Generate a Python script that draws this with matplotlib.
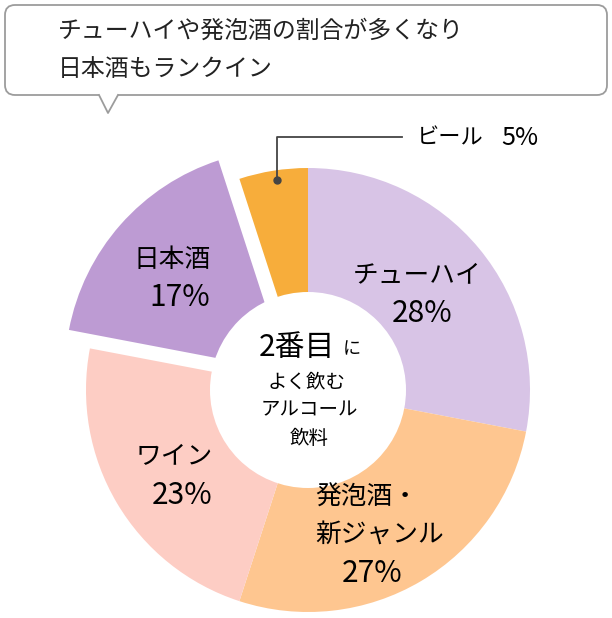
import matplotlib
matplotlib.use("Agg")
import matplotlib.pyplot as plt
from matplotlib.patches import Circle, FancyBboxPatch, Polygon

plt.rcParams['font.family'] = ['Noto Sans CJK JP', 'DejaVu Sans']

# データ（時計回り、12時の位置から）
categories = ['チューハイ', '発泡酒・新ジャンル', 'ワイン', '日本酒', 'ビール']
shares = [28, 27, 23, 17, 5]
colors = ['#d8c4e6', '#fec690', '#fdcdc4', '#bd9bd3', '#f7ad3b']
explode = [0, 0, 0, 0.126, 0]

title_lines = ['チューハイや発泡酒の割合が多くなり', '日本酒もランクイン']
center_lines = ['よく飲む', 'アルコール', '飲料']

W, H = 612, 618
CX, CY, R = 308, 390, 222  # 円グラフの中心と半径（ピクセル）

fig = plt.figure(figsize=(W / 100, H / 100), dpi=100)
fig.patch.set_facecolor('white')

# 円グラフ用の軸（半径1 = R ピクセル）
ax = fig.add_axes([0, 0, 1, 1])
ax.pie(shares, colors=colors, explode=explode, startangle=90,
       counterclock=False, radius=1, wedgeprops=dict(linewidth=0))
ax.set_xlim((0 - CX) / R, (W - CX) / R)
ax.set_ylim((CY - H) / R, CY / R)
ax.set_aspect('equal')
ax.axis('off')

# 文字などはピクセル座標の軸で
ov = fig.add_axes([0, 0, 1, 1])
ov.set_xlim(0, W)
ov.set_ylim(H, 0)
ov.axis('off')

# 中央の白い円
ov.add_patch(Circle((CX, CY), 98, facecolor='white', edgecolor='none'))

# 吹き出し
bub = FancyBboxPatch((5, 5), 602, 90, boxstyle='round,pad=0,rounding_size=10',
                     facecolor='white', edgecolor='#9c9c9c', linewidth=1.3)
ov.add_patch(bub)
ov.add_patch(Polygon([(99, 94), (108, 113), (118, 94)], closed=True,
                     facecolor='white', edgecolor='none', zorder=3))
ov.plot([99, 108, 118], [95, 113, 95], color='#9c9c9c', lw=1.3, zorder=4)
ov.text(58, 31, title_lines[0], fontsize=17.2, ha='left', va='center', color='#222222')
ov.text(58, 69, title_lines[1], fontsize=17.2, ha='left', va='center', color='#222222')

# ラベル
fs = 18.5
pfs = 21.5
ov.text(417, 275, 'チューハイ', fontsize=fs, ha='center', va='center')
ov.text(422, 313, f'{shares[0]}%', fontsize=pfs, ha='center', va='center')

ov.text(315, 498, '発泡酒・', fontsize=fs, ha='left', va='center')
ov.text(315, 535, '新ジャンル', fontsize=fs, ha='left', va='center')
ov.text(372, 573, f'{shares[1]}%', fontsize=pfs, ha='center', va='center')

ov.text(213, 457, 'ワイン', fontsize=fs, ha='right', va='center')
ov.text(212, 496, f'{shares[2]}%', fontsize=pfs, ha='right', va='center')

ov.text(211, 260, '日本酒', fontsize=fs, ha='right', va='center')
ov.text(210, 298, f'{shares[3]}%', fontsize=pfs, ha='right', va='center')

# ビールの引き出し線
ov.plot([277, 277, 402], [180, 137, 137], color='#444444', lw=1.3)
ov.plot([277], [180], 'o', color='#444444', ms=5)
ov.text(417, 138, 'ビール', fontsize=16, ha='left', va='center')
ov.text(538, 138, f'{shares[4]}%', fontsize=18, ha='right', va='center')

# 中央のテキスト
ov.text(297, 347, '2番目', fontsize=21.5, ha='center', va='center')
ov.text(352, 349, 'に', fontsize=13, ha='center', va='center')
ov.text(307, 382, center_lines[0], fontsize=14, ha='center', va='center')
ov.text(309, 410, center_lines[1], fontsize=14, ha='center', va='center')
ov.text(309, 438, center_lines[2], fontsize=14, ha='center', va='center')

fig.savefig('out.png', dpi=100, facecolor='white')
